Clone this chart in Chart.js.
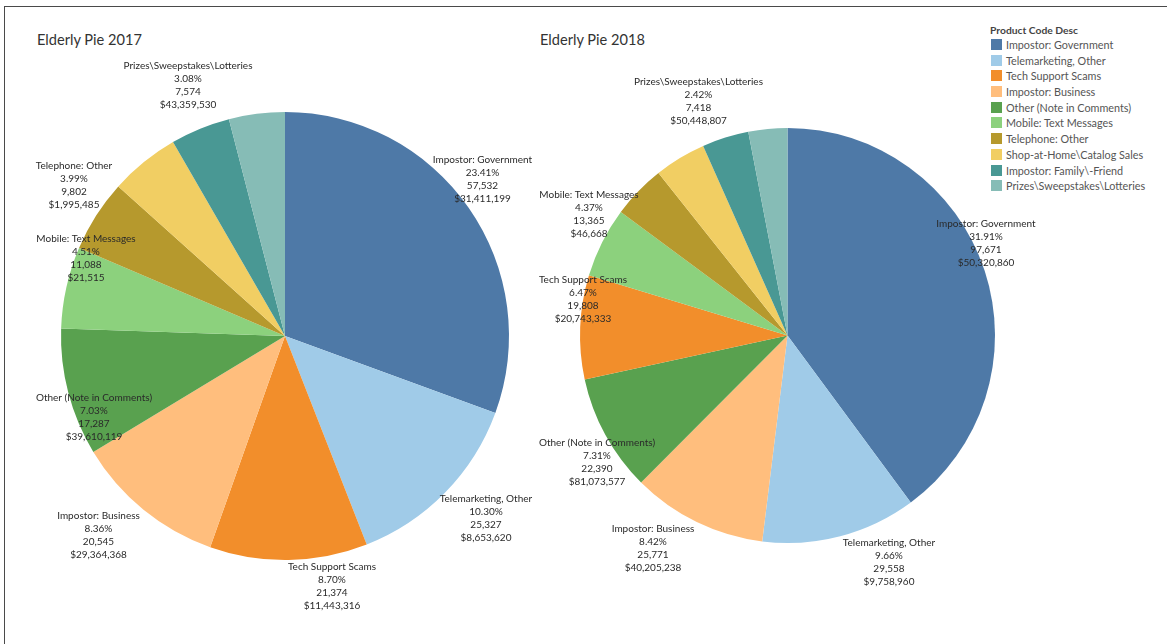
<!DOCTYPE html>
<html>
<head>
<meta charset="utf-8">
<script src="https://cdn.jsdelivr.net/npm/chart.js@4.4.0/dist/chart.umd.min.js"></script>
<style>
  html, body { margin: 0; padding: 0; background: #fff; }
  body { width: 1167px; height: 644px; position: relative; overflow: hidden; font-family: Lato, "Open Sans", sans-serif; }
  #frame { position: absolute; left: 4px; top: 6px; width: 1200px; height: 700px; border-top: 1.5px solid #4a4a4a; border-left: 1.5px solid #4a4a4a; }
  .title { position: absolute; font-size: 14.6px; color: #333; white-space: nowrap; }
  #legend { position: absolute; left: 990px; top: 23px; font-size: 10.8px; color: #555; }
  #legend .lt { font-weight: bold; color: #444; font-size: 10.3px; height: 14px; line-height: 14px; }
  #legend .it { height: 15.7px; line-height: 15.7px; white-space: nowrap; position: relative; padding-left: 16px; }
  #legend .sw { position: absolute; left: 1px; top: 2px; width: 11px; height: 11px; }
  canvas { position: absolute; }
</style>
</head>
<body>
<div id="frame"></div>
<div class="title" style="left:37px; top:31px;">Elderly Pie 2017</div>
<div class="title" style="left:540px; top:31px;">Elderly Pie 2018</div>
<div id="legend"></div>
<canvas id="c2017" width="560" height="590" style="left:20px; top:50px; width:560px; height:590px;"></canvas>
<canvas id="c2018" width="540" height="590" style="left:520px; top:50px; width:540px; height:590px;"></canvas>
<script>
// ---- data ----
const categories = [
  'Impostor: Government', 'Telemarketing, Other', 'Tech Support Scams', 'Impostor: Business',
  'Other (Note in Comments)', 'Mobile: Text Messages', 'Telephone: Other',
  'Shop-at-Home\\Catalog Sales', 'Impostor: Family\\-Friend', 'Prizes\\Sweepstakes\\Lotteries'
];
const colors = ['#4e79a7', '#a0cbe8', '#f28e2b', '#ffbe7d', '#59a14f', '#8cd17d', '#b6992d', '#f1ce63', '#499894', '#86bcb6'];

const counts2017 = [57532, 25327, 21374, 20545, 17287, 11088, 9802, 9450, 8100, 7574];
const pct2017 = ['23.41%', '10.30%', '8.70%', '8.36%', '7.03%', '4.51%', '3.99%', null, null, '3.08%'];
const amt2017 = ['$31,411,199', '$8,653,620', '$11,443,316', '$29,364,368', '$39,610,119', '$21,515', '$1,995,485', null, null, '$43,359,530'];

const counts2018 = [97671, 29558, 19808, 25771, 22390, 13365, 10200, 9850, 8900, 7418];
const pct2018 = ['31.91%', '9.66%', '6.47%', '8.42%', '7.31%', '4.37%', null, null, null, '2.42%'];
const amt2018 = ['$50,320,860', '$9,758,960', '$20,743,333', '$40,205,238', '$81,073,577', '$46,668', null, null, null, '$50,448,807'];

// ---- label placement (offsets from pie centre, first line) ----
const labelPos2017 = [[197.5, -176], [201, 163], [47, 231], [-186.5, 180], [-191, 62], [-199, -97], [-211, -170], null, null, [-97, -270]];
const labelPos2018 = [[198.5, -111.5], [101.5, 207.5], [-204.5, -55.5], [-134.5, 193.5], [-190.5, 107.5], [-198.5, -140.5], null, null, null, [-89, -253.5]];

// legend
const lg = document.getElementById('legend');
let html = '<div class="lt">Product Code Desc</div>';
categories.forEach((c, i) => {
  html += '<div class="it"><span class="sw" style="background:' + colors[i] + '"></span>' + c.replace(/&/g, '&amp;').replace(/</g, '&lt;') + '</div>';
});
lg.innerHTML = html;

const sliceLabels = {
  id: 'sliceLabels',
  afterDatasetsDraw(chart, args, opts) {
    const ctx = chart.ctx;
    const meta = chart.getDatasetMeta(0);
    const order = opts.order;
    ctx.save();
    ctx.font = '10px Lato, "Open Sans", sans-serif';
    ctx.fillStyle = '#2a2a2a';
    ctx.textAlign = 'center';
    ctx.textBaseline = 'middle';
    order.forEach((ci, k) => {
      const pos = opts.pos[ci];
      if (!pos || opts.pct[ci] == null) return;
      const arc = meta.data[k];
      const cx = arc.x, cy = arc.y;
      const lines = [categories[ci], opts.pct[ci], opts.counts[ci].toLocaleString('en-US'), opts.amt[ci]];
      lines.forEach((t, j) => ctx.fillText(t, cx + pos[0], cy + pos[1] + j * 12.8));
    });
    ctx.restore();
  }
};

function makePie(id, counts, pct, amt, pos, padding) {
  const order = counts.map((v, i) => i).sort((a, b) => counts[b] - counts[a]);
  new Chart(document.getElementById(id), {
    type: 'pie',
    data: {
      labels: order.map(i => categories[i]),
      datasets: [{
        data: order.map(i => counts[i]),
        backgroundColor: order.map(i => colors[i]),
        borderWidth: 0,
        hoverOffset: 0,
        offset: 0
      }]
    },
    options: {
      responsive: false,
      animation: false,
      events: [],
      layout: { padding: padding },
      plugins: {
        legend: { display: false },
        tooltip: { enabled: false },
        sliceLabels: { order: order, counts: counts, pct: pct, amt: amt, pos: pos }
      }
    },
    plugins: [sliceLabels]
  });
}

// 2017: pie centre page (285,336) r 224 ; canvas at (20,50)
makePie('c2017', counts2017, pct2017, amt2017, labelPos2017, { left: 41, top: 62, right: 71, bottom: 80 });
// 2018: pie centre page (787.5,335.5) r 207.5 ; canvas at (520,50)
makePie('c2018', counts2018, pct2018, amt2018, labelPos2018, { left: 60, top: 78, right: 65, bottom: 97 });
</script>
</body>
</html>
